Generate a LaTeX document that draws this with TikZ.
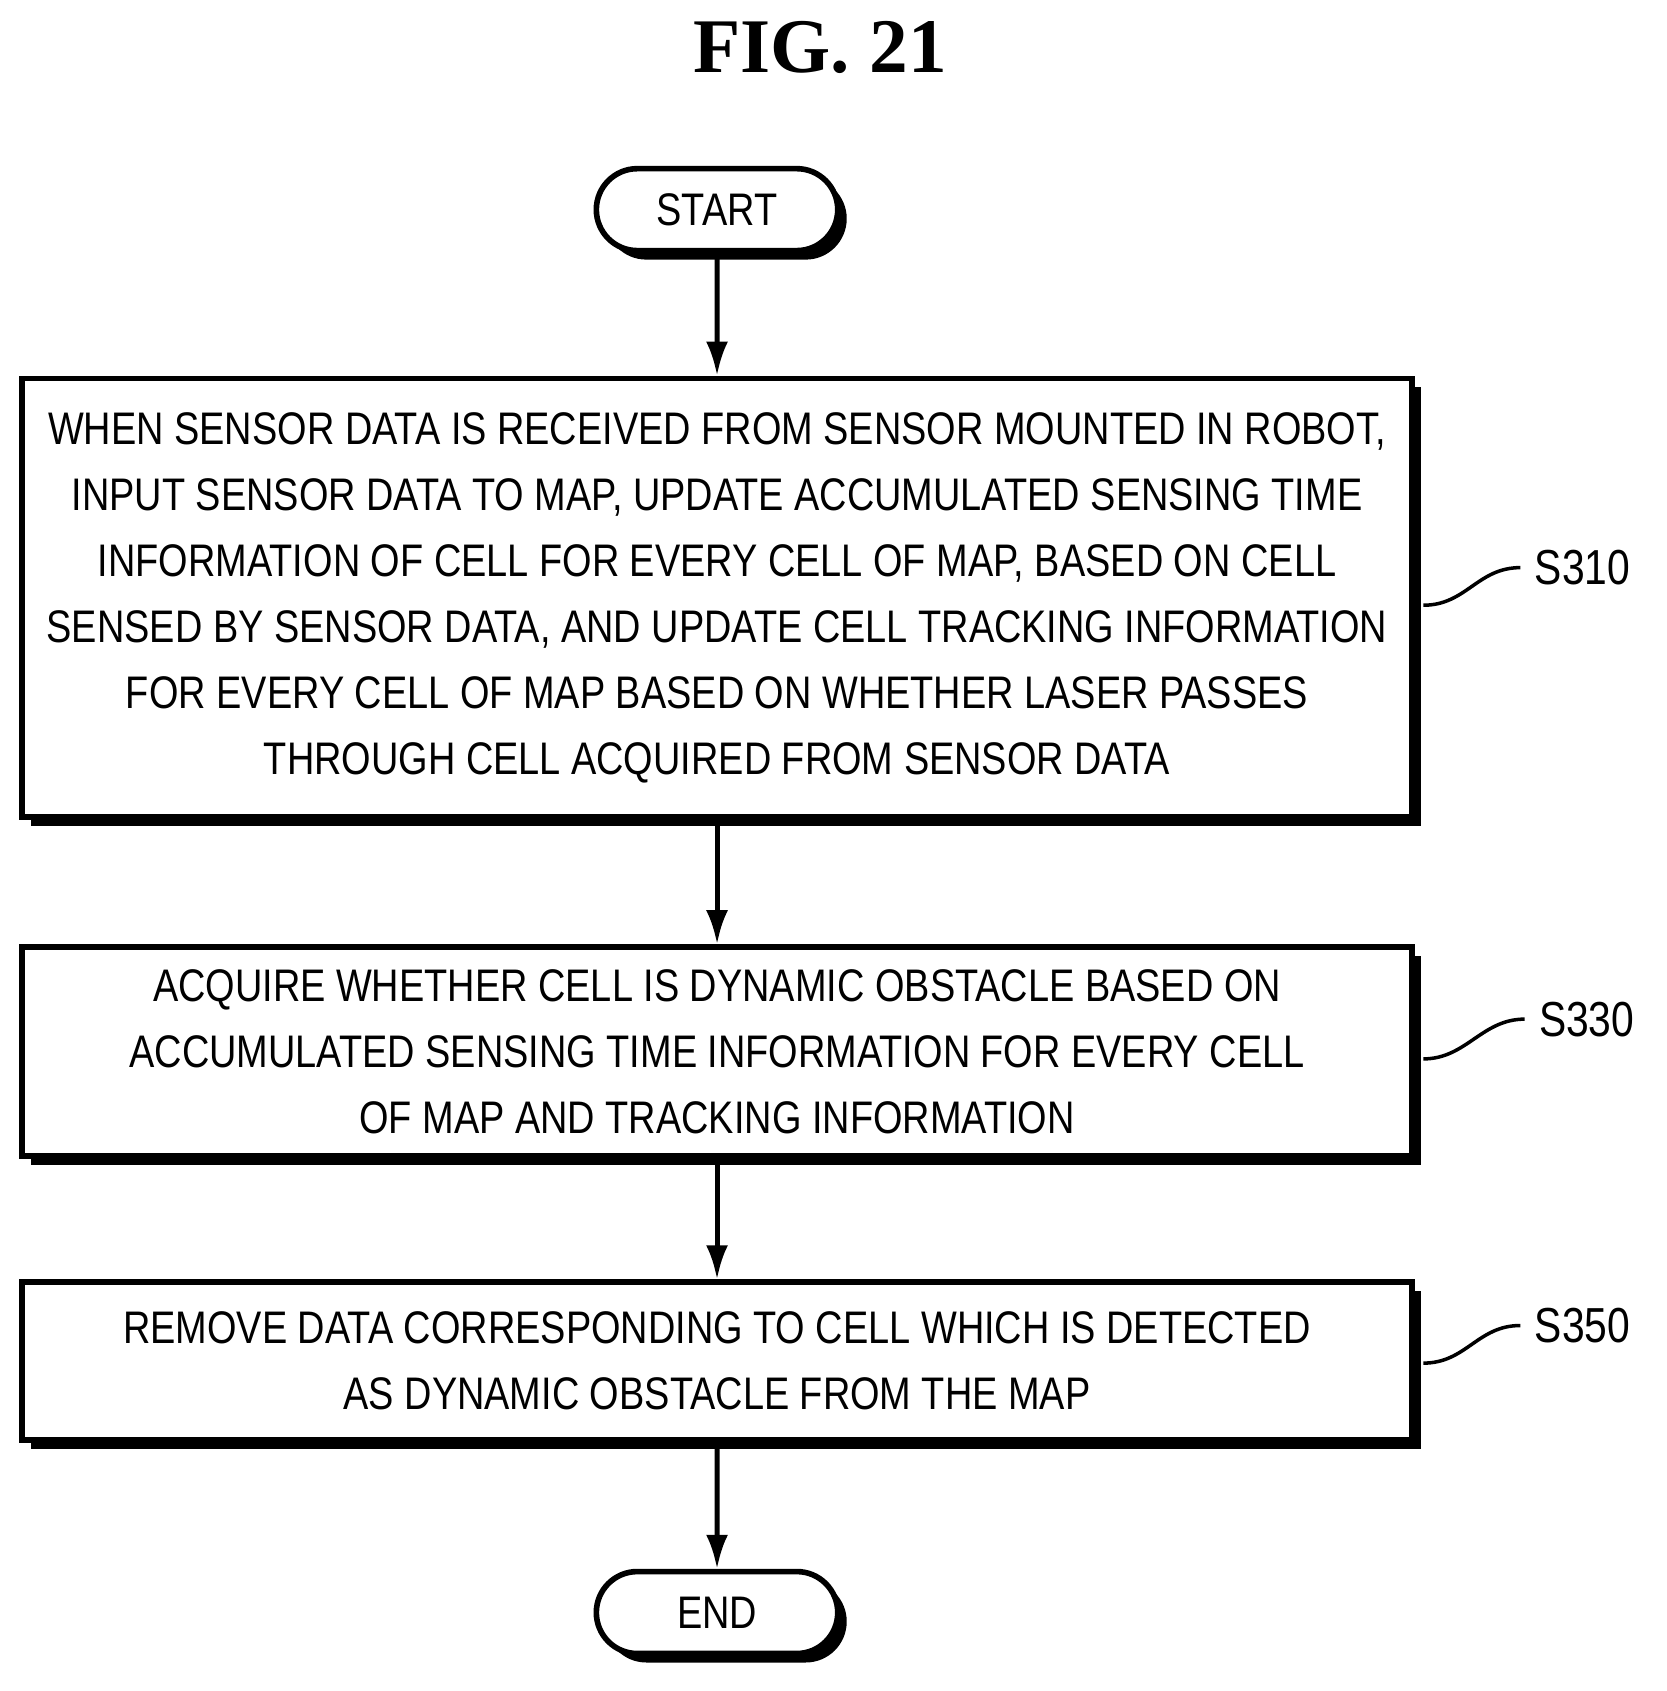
\documentclass[tikz,border=0pt]{standalone}
\usepackage{fontspec}
\setmainfont{Liberation Sans}[FakeStretch=0.83]
\newfontfamily\figfont{Liberation Serif}
\usetikzlibrary{shapes.misc,shadows,positioning,arrows.meta}
\tikzset{
  stepbox/.style = {draw, line width=1.6pt, fill=white, align=center, minimum width=13.91cm,
    font=\fontsize{13pt}{18.8pt}\selectfont, inner sep=0pt,
    drop shadow={shadow xshift=0.09cm, shadow yshift=-0.09cm, fill=black, opacity=1}},
  term/.style = {draw, line width=1.6pt, fill=white, rounded rectangle, minimum width=2.65cm,
    minimum height=0.82cm, font=\fontsize{13pt}{16pt}\selectfont,
    drop shadow={shadow xshift=0.09cm, shadow yshift=-0.09cm, fill=black, opacity=1}},
  flow/.style = {line width=1.4pt, -{Latex[length=0.34cm, width=0.22cm]}},
  tag/.style = {font=\fontsize{14pt}{16pt}\selectfont}
}
\begin{document}
\begin{tikzpicture}[x=0.01075cm, y=-0.01075cm]
            \useasboundingbox (0,0) rectangle (1550,1573);
            \node[font=\figfont\bfseries\fontsize{22pt}{26pt}\selectfont] (title) at (763,44) {FIG. 21};
            \node[term] (start) at (667,195) {START};
            \node[stepbox, minimum height=4.39cm] (s310) at (667,556) {WHEN SENSOR DATA IS RECEIVED FROM SENSOR MOUNTED IN ROBOT,\\ INPUT SENSOR DATA TO MAP, UPDATE ACCUMULATED SENSING TIME\\ INFORMATION OF CELL FOR EVERY CELL OF MAP, BASED ON CELL\\ SENSED BY SENSOR DATA, AND UPDATE CELL TRACKING INFORMATION\\ FOR EVERY CELL OF MAP BASED ON WHETHER LASER PASSES\\ THROUGH CELL ACQUIRED FROM SENSOR DATA};
            \node[stepbox, minimum height=2.09cm] (s330) at (667,978) {ACQUIRE WHETHER CELL IS DYNAMIC OBSTACLE BASED ON\\ ACCUMULATED SENSING TIME INFORMATION FOR EVERY CELL\\ OF MAP AND TRACKING INFORMATION};
            \node[stepbox, minimum height=1.58cm] (s350) at (667,1266) {REMOVE DATA CORRESPONDING TO CELL WHICH IS DETECTED\\ AS DYNAMIC OBSTACLE FROM THE MAP};
            \node[term] (end) at (667,1500) {END};
            % connectors
            \draw[flow] (start) -- (s310);
            \draw[flow] (s310) -- (s330);
            \draw[flow] (s330) -- (s350);
            \draw[flow] (s350) -- (end);
            % step labels
            \node[tag] (l310) at (1472,528) {S310};
            \node[tag] (l330) at (1476,948) {S330};
            \node[tag] (l350) at (1472,1233) {S350};
            \coordinate (c310) at (1324,563);
            \coordinate (c330) at (1324,985);
            \coordinate (c350) at (1324,1268);
            \foreach \c/\l in {c310/l310, c330/l330, c350/l350}
                \draw[line width=1pt] (\c) .. controls +(40,0) and +(-40,0) .. ([xshift=-0.02cm]\l.west);
        \end{tikzpicture}
\end{document}
